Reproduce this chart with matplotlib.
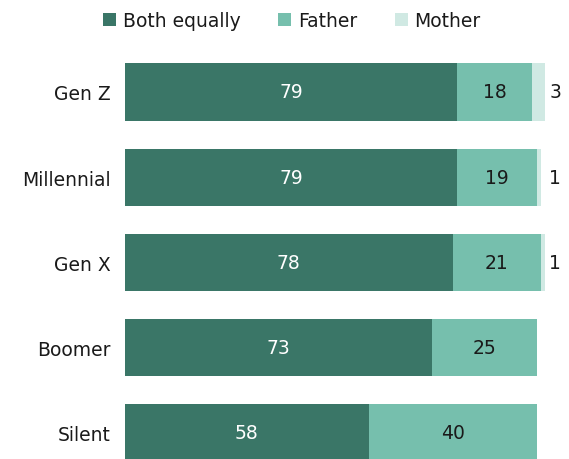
import matplotlib
matplotlib.use("Agg")
import matplotlib.pyplot as plt
import numpy as np

plt.rcParams['font.family'] = ['DejaVu Sans']

generations = ['Gen Z', 'Millennial', 'Gen X', 'Boomer', 'Silent']
both_equally = [79, 79, 78, 73, 58]
father = [18, 19, 21, 25, 40]
mother = [3, 1, 1, 0, 0]

series_names = ['Both equally', 'Father', 'Mother']
colors = ['#3a7667', '#76bfad', '#d0e9e3']

fs = 13.5

fig = plt.figure(figsize=(5.69, 4.6), dpi=100)
ax = fig.add_axes([125 / 569, 0, 444 / 569, 418 / 460])

y = np.arange(len(generations))
h = 0.67
left = np.zeros(len(generations))
for vals, name, c in zip([both_equally, father, mother], series_names, colors):
    ax.barh(y, vals, left=left, height=h, color=c, label=name)
    left += np.array(vals)

for i in range(len(generations)):
    ax.text(both_equally[i] / 2, y[i], str(both_equally[i]), ha='center', va='center',
            color='white', fontsize=fs)
    ax.text(both_equally[i] + father[i] / 2, y[i], str(father[i]), ha='center', va='center',
            color='#1a1a1a', fontsize=fs)
    if mother[i] > 0:
        ax.text(101.0, y[i], str(mother[i]), ha='left', va='center', color='#1a1a1a', fontsize=fs)

ax.set_xlim(0, 444 / 4.2)
ax.set_ylim(4 + 26 / 85.25, -51 / 85.25)
ax.set_yticks(y)
ax.set_yticklabels(generations, fontsize=fs, color='#1a1a1a')
ax.tick_params(axis='y', length=0, pad=10)
ax.set_xticks([])
for s in ax.spines.values():
    s.set_visible(False)

fig.legend(loc='upper center', bbox_to_anchor=(292 / 569, 1.01), ncol=3, frameon=False,
           fontsize=fs, handlelength=0.7, handleheight=0.7, handletextpad=0.35,
           columnspacing=2.0, labelcolor='#1a1a1a')

fig.savefig('out.png', dpi=100)
